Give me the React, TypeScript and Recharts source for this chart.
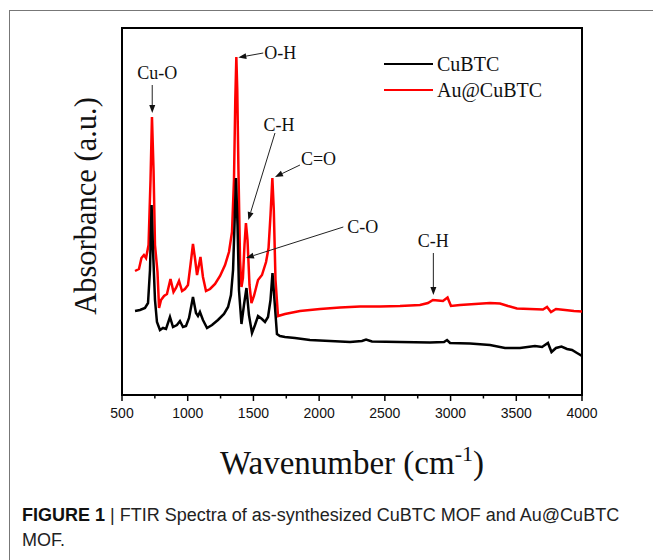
import React from 'react';
import { LineChart, Line, XAxis, YAxis, ReferenceArea, ReferenceLine, Legend } from 'recharts';

// wavenumber (cm-1) and absorbance (a.u.)
const WN_CUBTC = [
  599, 637, 675, 698, 713, 725, 736, 751, 766, 789, 812, 835, 865, 888, 918, 941, 964, 987, 1010, 1040,
  1063, 1078, 1093, 1116, 1147, 1185, 1230, 1276, 1307, 1329, 1345, 1356, 1367, 1379, 1390, 1409, 1428,
  1447, 1466, 1489, 1512, 1535, 1565, 1588, 1611, 1630, 1645, 1660, 1679, 1702, 1740, 1816, 1930, 2083,
  2235, 2326, 2357, 2402, 2615, 2843, 2950, 2973, 2996, 3148, 3300, 3414, 3528, 3642, 3696, 3741, 3768,
  3802, 3844, 3886, 3924, 3962, 4000,
];
const ABS_CUBTC = [
  84, 85, 87, 92, 125, 190, 145, 95, 73, 65, 67, 66, 78, 68, 70, 74, 68, 69, 77, 98,
  82, 79, 83, 75, 67, 70, 75, 81, 88, 100, 125, 170, 217, 170, 105, 71, 90,
  107, 80, 62, 70, 79, 76, 73, 78, 95, 122, 95, 61, 59, 58, 57, 55, 54,
  53, 54, 55.5, 53.5, 53, 52.5, 53, 55, 52, 51.5, 50, 47, 47, 49, 48, 52, 43,
  47, 48.5, 46, 45, 42, 39,
];

const WN_AU = [
  599, 629, 648, 667, 683, 702, 717, 728, 740, 751, 763, 770, 782, 797, 820, 842, 869, 892, 911, 934,
  957, 979, 1002, 1021, 1040, 1055, 1071, 1097, 1116, 1139, 1170, 1208, 1246, 1284, 1314, 1337, 1352,
  1362, 1370, 1377, 1386, 1398, 1409, 1420, 1432, 1443, 1455, 1470, 1485, 1504, 1535, 1565, 1596, 1615,
  1630, 1644, 1655, 1668, 1687, 1740, 1854, 2007, 2159, 2311, 2463, 2615, 2767, 2828, 2866, 2904, 2942,
  2977, 3003, 3072, 3186, 3300, 3376, 3437, 3505, 3604, 3703, 3734, 3764, 3802, 3871, 3939, 4000,
];
const ABS_AU = [
  124, 126, 137, 140, 137, 150, 215, 278, 225, 150, 133, 123, 87, 95, 99, 101, 116, 103, 107, 114,
  104, 106, 110, 130, 151, 137, 120, 138, 118, 104, 106, 111, 119, 130, 143, 163, 215,
  295, 338, 305, 225, 135, 108, 117, 150, 172, 155, 110, 92, 99, 115, 120, 133, 147,
  180, 217, 185, 115, 79, 81, 84, 86, 87.5, 88.5, 88.5, 89, 90, 92, 95, 94.5, 94,
  97.5, 89, 90, 91, 92, 91.5, 89, 86.5, 86, 85.5, 88, 83, 86, 85, 84, 83.5,
];

const X_TICKS = [500, 750, 1000, 1250, 1500, 1750, 2000, 2250, 2500, 2750, 3000, 3250, 3500, 3750, 4000];

const SERIES = [
  { name: 'CuBTC', color: '#000000' },
  { name: 'Au@CuBTC', color: '#ff0000' },
];

// peak assignments: arrow from (x1,y1) to (x2,y2), text placed near the start
const ANNOTATIONS = [
  { text: 'Cu-O', x1: 730, y1: 310, x2: 730, y2: 282, anchor: 'middle', dx: 5, dy: -6 },
  { text: 'O-H', x1: 1575, y1: 342, x2: 1385, y2: 337.5, anchor: 'start', dx: 1, dy: 6 },
  { text: 'C-H', x1: 1664, y1: 262, x2: 1461, y2: 175, anchor: 'middle', dx: 4, dy: -2 },
  { text: 'C=O', x1: 1854, y1: 230, x2: 1664, y2: 218, anchor: 'start', dx: 1, dy: 0 },
  { text: 'C-O', x1: 2184, y1: 168, x2: 1443, y2: 137, anchor: 'start', dx: 4, dy: 6 },
  { text: 'C-H', x1: 2869, y1: 142, x2: 2869, y2: 100, anchor: 'middle', dx: 0, dy: -6 },
];

const cubtcData = WN_CUBTC.map((w, i) => ({ w, a: ABS_CUBTC[i] }));
const auData = WN_AU.map((w, i) => ({ w, a: ABS_AU[i] }));

const SERIF = '"Liberation Serif", "Times New Roman", serif';
const SANS = '"Liberation Sans", Arial, sans-serif';

const AxisTick = (props: any) => {
  const { x, y, payload } = props;
  const major = payload.value % 500 === 0;
  return (
    <g>
      <line x1={x} x2={x} y1={y} y2={y + (major ? 6 : 3.5)} stroke="#000" strokeWidth={1.5} />
      {major && (
        <text x={x} y={y + 23} textAnchor="middle" fontFamily={SANS} fontSize={14} fill="#111">
          {payload.value}
        </text>
      )}
    </g>
  );
};

const arrowShape = (ann: any) => (props: any) => {
  const { x1, y1, x2, y2 } = props;
  const ang = Math.atan2(y2 - y1, x2 - x1);
  const len = 8;
  const hw = 3;
  const bx = x2 - len * Math.cos(ang);
  const by = y2 - len * Math.sin(ang);
  const px = -Math.sin(ang) * hw;
  const py = Math.cos(ang) * hw;
  return (
    <g>
      <line x1={x1} y1={y1} x2={bx} y2={by} stroke="#222" strokeWidth={1} />
      <polygon points={`${x2},${y2} ${bx + px},${by + py} ${bx - px},${by - py}`} fill="#111" />
      <text x={x1 + ann.dx} y={y1 + ann.dy} textAnchor={ann.anchor} fontFamily={SERIF} fontSize={18} fill="#111">
        {ann.text}
      </text>
    </g>
  );
};

const LegendBox = () => (
  <div>
    {SERIES.map((s) => (
      <div key={s.name} style={{ display: 'flex', alignItems: 'center', height: 26 }}>
        <span style={{ width: 49, height: 0, borderTop: `2.5px solid ${s.color}` }} />
        <span style={{ marginLeft: 4, fontFamily: SERIF, fontSize: 20, color: '#111', lineHeight: '26px' }}>{s.name}</span>
      </div>
    ))}
  </div>
);

export default function App() {
  return (
    <div style={{ position: 'absolute', left: 0, top: 0, width: 653, height: 560, background: '#fff', overflow: 'hidden' }}>
      <div style={{ position: 'absolute', left: 9, top: 10, right: -2, bottom: -2, borderTop: '1px solid #777', borderLeft: '1px solid #777' }} />
      <div style={{ position: 'absolute', left: 0, top: 0 }}>
        <LineChart width={653} height={560} data={cubtcData} margin={{ top: 28, right: 71, left: 122, bottom: 135 }}>
          <XAxis
            type="number"
            dataKey="w"
            domain={[500, 4000]}
            ticks={X_TICKS}
            interval={0}
            allowDataOverflow
            axisLine={false}
            tickLine={false}
            tickSize={0}
            tickMargin={0}
            height={30}
            tick={<AxisTick />}
          />
          <YAxis type="number" dataKey="a" domain={[0, 367]} hide allowDataOverflow />
          <ReferenceArea x1={500} x2={4000} y1={0} y2={367} fill="none" stroke="#000" strokeWidth={2} ifOverflow="extendDomain" />
          <Line data={auData} dataKey="a" name="Au@CuBTC" stroke="#ff0000" strokeWidth={2.5} dot={false} type="linear" isAnimationActive={false} />
          <Line data={cubtcData} dataKey="a" name="CuBTC" stroke="#000000" strokeWidth={2.5} dot={false} type="linear" isAnimationActive={false} />
          {ANNOTATIONS.map((ann, i) => (
            <ReferenceLine
              key={`ann-${i}`}
              segment={[{ x: ann.x1, y: ann.y1 }, { x: ann.x2, y: ann.y2 }]}
              shape={arrowShape(ann)}
            />
          ))}
          <Legend
            layout="vertical"
            align="center"
            verticalAlign="middle"
            content={<LegendBox />}
            wrapperStyle={{ left: 384, top: 51, width: 'auto' }}
          />
        </LineChart>
      </div>
      <svg width={653} height={560} style={{ position: 'absolute', left: 0, top: 0, pointerEvents: 'none' }}>
        <text x={96} y={206} transform="rotate(-90 96 206)" textAnchor="middle" fontFamily={SERIF} fontSize={30.5} fill="#111">
          Absorbance (a.u.)
        </text>
        <text x={352} y={474} textAnchor="middle" fontFamily={SERIF} fontSize={33} fill="#111">
          Wavenumber (cm
          <tspan fontSize={22} dy={-13}>-1</tspan>
          <tspan dy={13}>)</tspan>
        </text>
      </svg>
      <div style={{ position: 'absolute', left: 22, top: 503, fontFamily: SANS, fontSize: 18, lineHeight: '25px', color: '#222', whiteSpace: 'nowrap' }}>
        <b style={{ color: '#111' }}>FIGURE 1</b> | FTIR Spectra of as-synthesized CuBTC MOF and Au@CuBTC
        <br />
        MOF.
      </div>
    </div>
  );
}
